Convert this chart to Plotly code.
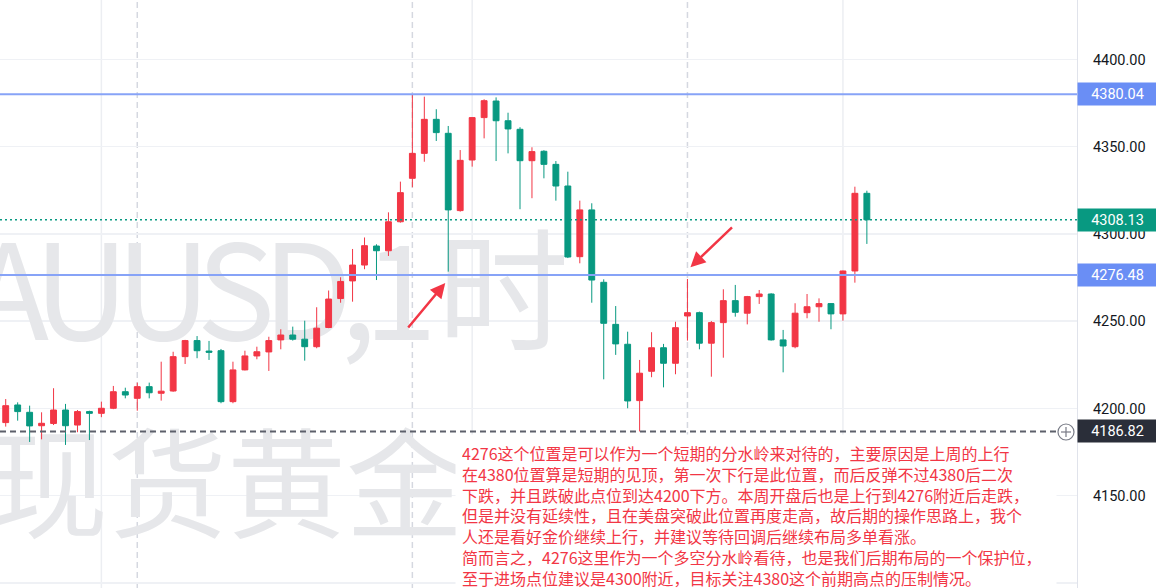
import plotly.graph_objects as go

# ---------------- data (XAUUSD 1h candles) ----------------
idx = list(range(73))
opens = [4191.9, 4202.0, 4197.8, 4190.1, 4191.4, 4199.1, 4190.5, 4198.2, 4197.2, 4200.1,
         4209.6, 4205.8, 4212.5, 4208.7, 4210.0, 4229.7, 4238.9, 4232.9, 4233.1, 4203.9,
         4222.1, 4230.1, 4232.4, 4239.3, 4242.1, 4239.7, 4235.4, 4246.4, 4263.0, 4273.1,
         4282.2, 4293.1, 4290.4, 4307.0, 4331.9, 4346.2, 4365.7, 4357.7, 4313.4, 4342.4,
         4366.7, 4376.2, 4364.9, 4360.0, 4342.0, 4347.4, 4339.9, 4327.5, 4287.0, 4313.8,
         4272.3, 4248.2, 4236.8, 4204.5, 4221.3, 4234.8, 4225.9, 4253.0, 4254.9, 4237.4,
         4249.2, 4261.8, 4254.6, 4264.1, 4265.6, 4239.3, 4235.4, 4254.9, 4258.3, 4260.1,
         4254.2, 4278.8, 4323.3]
highs = [4205.4, 4203.5, 4201.6, 4197.8, 4211.6, 4202.6, 4199.1, 4198.7, 4203.9, 4212.9,
         4211.9, 4214.8, 4214.8, 4226.8, 4232.5, 4239.3, 4241.5, 4238.7, 4234.1, 4226.8,
         4233.1, 4235.4, 4241.1, 4245.4, 4246.9, 4250.3, 4258.0, 4267.6, 4275.2, 4291.4,
         4298.0, 4294.1, 4312.4, 4330.0, 4380.04, 4378.7, 4371.5, 4361.9, 4348.1, 4367.0,
         4377.2, 4378.3, 4369.5, 4361.2, 4349.7, 4348.0, 4341.8, 4335.7, 4319.1, 4317.6,
         4274.0, 4258.7, 4244.0, 4227.8, 4243.7, 4237.0, 4249.7, 4274.2, 4255.5, 4250.1,
         4268.3, 4270.8, 4264.5, 4267.9, 4266.0, 4245.0, 4260.3, 4265.6, 4263.1, 4260.3,
         4279.0, 4327.1, 4324.8]
lows = [4189.6, 4193.0, 4180.8, 4182.3, 4190.5, 4179.1, 4186.4, 4181.9, 4195.0, 4199.6,
        4205.8, 4198.7, 4205.8, 4204.5, 4209.6, 4225.5, 4228.8, 4227.8, 4203.0, 4203.0,
        4221.8, 4228.2, 4221.5, 4233.9, 4238.9, 4227.4, 4234.5, 4246.0, 4260.6, 4261.2,
        4279.8, 4273.6, 4287.4, 4306.5, 4326.8, 4341.4, 4353.3, 4278.4, 4312.8, 4338.6,
        4354.8, 4341.8, 4346.2, 4314.2, 4320.5, 4331.9, 4319.1, 4286.2, 4283.2, 4260.6,
        4216.7, 4230.7, 4200.1, 4186.82, 4217.9, 4212.1, 4219.6, 4238.9, 4233.9, 4218.2,
        4229.1, 4252.6, 4248.2, 4259.9, 4238.9, 4220.7, 4234.5, 4251.7, 4249.7, 4245.4,
        4250.3, 4272.1, 4294.3]
closes = [4201.6, 4198.2, 4190.0, 4191.5, 4199.1, 4190.1, 4198.2, 4197.2, 4200.1, 4209.6,
          4207.7, 4212.5, 4209.0, 4209.9, 4229.7, 4238.9, 4233.1, 4232.2, 4203.9, 4222.1,
          4230.1, 4232.5, 4238.9, 4242.1, 4239.7, 4235.4, 4246.0, 4262.7, 4272.8, 4282.2,
          4293.3, 4290.4, 4307.0, 4323.7, 4346.2, 4365.7, 4358.1, 4313.8, 4342.2, 4366.7,
          4376.4, 4364.9, 4360.2, 4342.0, 4347.2, 4339.9, 4327.5, 4286.8, 4313.8, 4273.6,
          4248.8, 4237.0, 4204.3, 4220.2, 4234.8, 4225.9, 4246.3, 4254.9, 4237.4, 4249.2,
          4261.8, 4255.1, 4264.1, 4265.6, 4239.3, 4235.8, 4254.6, 4258.3, 4260.1, 4254.2,
          4278.8, 4323.3, 4308.13]

y_ticks = [4100, 4150, 4200, 4250, 4300, 4350, 4400]
y_tick_labels = ["%.2f" % v for v in y_ticks]

level_high = 4380.04      # previous high (blue line)
level_key = 4276.48       # key level (blue line)
last_price = 4308.13      # last price (green dotted)
cross_price = 4186.82     # crosshair (dark dashed)

solid_vlines = [8, 39, 70]
dashed_vlines = [11, 34, 57]

symbol_text = "XAUUSD,"
interval_text = "1时"
brand_text = "现货黄金"

note_lines = [
    "4276这个位置是可以作为一个短期的分水岭来对待的，主要原因是上周的上行",
    "在4380位置算是短期的见顶，第一次下行是此位置，而后反弹不过4380后二次",
    "下跌，并且跌破此点位到达4200下方。本周开盘后也是上行到4276附近后走跌，",
    "但是并没有延续性，且在美盘突破此位置再度走高，故后期的操作思路上，我个",
    "人还是看好金价继续上行，并建议等待回调后继续布局多单看涨。",
    "简而言之，4276这里作为一个多空分水岭看待，也是我们后期布局的一个保护位，",
    "至于进场点位建议是4300附近，目标关注4380这个前期高点的压制情况。",
]

# ---------------- styling ----------------
RED = "#F23645"
GREEN = "#089981"
BLUE_LINE = "#87a3f7"
BLUE_LABEL = "#6a8ef5"
DARK_LABEL = "#2a2e39"
AXFONT = "Roboto, Liberation Sans, sans-serif"
CJK = "Noto Sans CJK SC"
WM_COLOR = "#e6e7ea"

X_RANGE = [-0.477, 89.57]
Y_RANGE = [4097.1, 4434.1]

fig = go.Figure()

# watermark (base subplot, underneath the candles)
wm1 = "<span style='letter-spacing:-13px'>%s</span>%s" % (symbol_text, interval_text)
fig.add_trace(go.Scatter(
    x=[47.1, 38.4], y=[4258.0, 4148.0],
    mode="text",
    text=[wm1, brand_text],
    textposition="middle left",
    textfont=dict(size=[132, 119], color=WM_COLOR, family=CJK),
    hoverinfo="skip", showlegend=False,
    xaxis="x", yaxis="y",
))

# candles (overlay subplot, above watermark)
fig.add_trace(go.Candlestick(
    x=idx, open=opens, high=highs, low=lows, close=closes,
    increasing=dict(line=dict(color=RED, width=1), fillcolor=RED),
    decreasing=dict(line=dict(color=GREEN, width=1), fillcolor=GREEN),
    whiskerwidth=0,
    showlegend=False, hoverinfo="skip",
    xaxis="x2", yaxis="y2",
))

shapes = []
for v in solid_vlines:
    shapes.append(dict(type="line", xref="x", yref="paper", x0=v, x1=v, y0=0, y1=1,
                       line=dict(color="#eceef2", width=1.5), layer="below"))
for v in dashed_vlines:
    shapes.append(dict(type="line", xref="x", yref="paper", x0=v, x1=v, y0=0, y1=1,
                       line=dict(color="#d5d8e0", width=1.5, dash="6px,4px"), layer="below"))
for v in (level_high, level_key):
    shapes.append(dict(type="line", xref="paper", yref="y", x0=0, x1=1, y0=v, y1=v,
                       line=dict(color=BLUE_LINE, width=2), layer="above"))
shapes.append(dict(type="line", xref="paper", yref="y", x0=0, x1=1, y0=last_price, y1=last_price,
                   line=dict(color=GREEN, width=1.5, dash="2px,3px"), layer="above"))
shapes.append(dict(type="line", xref="paper", yref="y", x0=0, x1=0.982, y0=cross_price, y1=cross_price,
                   line=dict(color="#5d606b", width=2, dash="6px,4px"), layer="above"))
# crosshair "+" icon
shapes.append(dict(type="circle", xref="paper", yref="paper",
                   x0=1058 / 1077, x1=1074 / 1077, y0=1 - 440 / 588, y1=1 - 424 / 588,
                   line=dict(color="#787b86", width=1.2), fillcolor="white", layer="above"))
shapes.append(dict(type="line", xref="paper", yref="paper",
                   x0=1061 / 1077, x1=1071 / 1077, y0=1 - 432 / 588, y1=1 - 432 / 588,
                   line=dict(color="#787b86", width=1.2), layer="above"))
shapes.append(dict(type="line", xref="paper", yref="paper",
                   x0=1066 / 1077, x1=1066 / 1077, y0=1 - 437 / 588, y1=1 - 427 / 588,
                   line=dict(color="#787b86", width=1.2), layer="above"))

annotations = []
# price labels on the right scale
for v, bg in ((level_high, BLUE_LABEL), (last_price, GREEN), (level_key, BLUE_LABEL), (cross_price, DARK_LABEL)):
    annotations.append(dict(
        xref="paper", x=1, xanchor="left", yref="y", y=v, yanchor="middle",
        text="%.2f" % v, showarrow=False, bgcolor=bg,
        font=dict(color="white", size=14.5, family=AXFONT),
        width=75, height=18, borderpad=2, align="center",
    ))
# arrows
annotations.append(dict(x=36.75, y=4271.9, ax=33.55, ay=4245.5, xref="x", yref="y",
                        axref="x", ayref="y", text="", showarrow=True, arrowhead=2,
                        arrowsize=1.2, arrowwidth=2.5, arrowcolor=RED))
annotations.append(dict(x=57.25, y=4281.0, ax=60.85, ay=4304.6, xref="x", yref="y",
                        axref="x", ayref="y", text="", showarrow=True, arrowhead=2,
                        arrowsize=1.2, arrowwidth=2.5, arrowcolor=RED))
# commentary box
annotations.append(dict(
    xref="paper", x=455 / 1077, xanchor="left", yref="paper", y=1 - 434 / 588, yanchor="top",
    text="<br>".join(note_lines), showarrow=False, align="left",
    font=dict(color=RED, size=16, family=CJK),
    bgcolor="white", borderpad=6, width=588,
))

fig.update_layout(
    width=1156, height=588,
    margin=dict(l=0, r=79, t=0, b=0),
    paper_bgcolor="white", plot_bgcolor="white",
    showlegend=False,
    xaxis=dict(range=X_RANGE, showgrid=False, zeroline=False, showticklabels=False,
               showline=False, ticks="", fixedrange=True, rangeslider=dict(visible=False)),
    xaxis2=dict(range=X_RANGE, overlaying="x", visible=False, fixedrange=True,
                rangeslider=dict(visible=False)),
    yaxis=dict(range=Y_RANGE, side="right", tickvals=y_ticks, ticktext=y_tick_labels,
               showgrid=True, gridcolor="#eff1f5", gridwidth=1.5, zeroline=False,
               showline=True, linecolor="#e0e3eb", linewidth=1, ticks="",
               ticklabelstandoff=12, automargin=False,
               tickfont=dict(size=14.5, color="#131722", family=AXFONT), fixedrange=True),
    yaxis2=dict(range=Y_RANGE, overlaying="y", side="right", visible=False, fixedrange=True),
    shapes=shapes,
    annotations=annotations,
)

fig.write_html("out.html",
               config={"displayModeBar": False, "staticPlot": True},
               post_script="document.body.style.margin='0px';document.body.style.overflow='hidden';")
